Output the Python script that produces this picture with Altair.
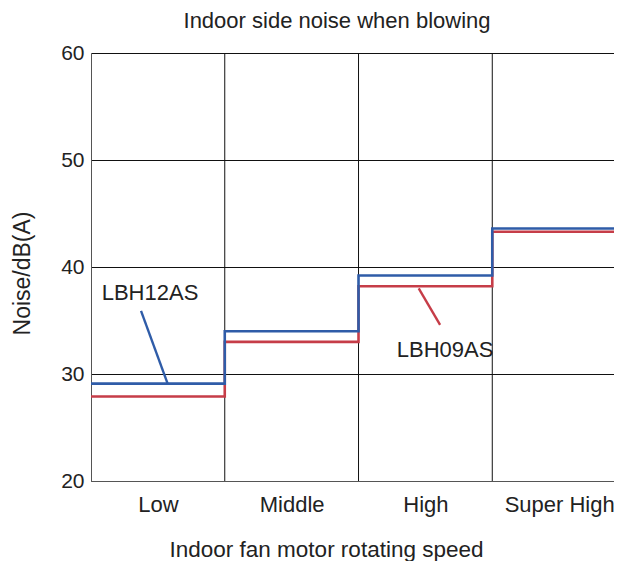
import altair as alt
import pandas as pd

# ---- data ----
speeds = ["Low", "Middle", "High", "Super High"]
lbh12as = [29.1, 34.0, 39.2, 43.6]
lbh09as = [27.9, 33.0, 38.2, 43.3]
boundaries = [1, 2, 3]

ann_names = ["LBH12AS", "LBH09AS"]
ann_x = [0.08, 2.286]
ann_y = [36.9, 31.6]
lead_x1 = [0.374, 2.45]
lead_y1 = [35.9, 38.0]
lead_x2 = [0.573, 2.61]
lead_y2 = [29.1, 34.6]

chart_title = "Indoor side noise when blowing"

BLUE = "#2f5ca8"
RED = "#c63d48"
FONT = "Liberation Sans"
TXT = "#222222"

def steps(vals, name):
    xs = list(range(len(vals))) + [len(vals)]
    ys = list(vals) + [vals[-1]]
    return pd.DataFrame({"x": xs, "y": ys, "model": name})

df_lines = pd.concat([steps(lbh09as, "LBH09AS"), steps(lbh12as, "LBH12AS")])
df_bound = pd.DataFrame({"b": boundaries})
df_ann = pd.DataFrame({"name": ann_names, "x": ann_x, "y": ann_y})
df_lead = pd.DataFrame({"name": ann_names, "x1": lead_x1, "y1": lead_y1,
                        "x2": lead_x2, "y2": lead_y2})
df_title = pd.DataFrame({"t": [chart_title]})

label_expr = "[" + ",".join("'%s'" % s for s in speeds) + "][floor(datum.value)]"

PLOT_W = 523
PLOT_H = 428
xscale = alt.Scale(domain=[0, 3.91], nice=False, zero=False)
yscale = alt.Scale(domain=[20, 60], nice=False, zero=False)
cscale = alt.Scale(domain=["LBH09AS", "LBH12AS"], range=[RED, BLUE])

x_axis = alt.Axis(
    values=[i + 0.5 for i in range(len(speeds))],
    labelExpr=label_expr,
    grid=False, ticks=False, domain=True, domainColor="#555555",
    labelFontSize=22, labelFont=FONT, labelColor=TXT, labelPadding=13,
    title="Indoor fan motor rotating speed", titleFontSize=22.5, titleFont=FONT,
    titleFontWeight="normal", titleColor=TXT,
    titleX=235, titleY=75, titleBaseline="alphabetic", titleAlign="center",
)
y_axis = alt.Axis(
    values=[20, 30, 40, 50, 60],
    grid=True, gridColor="#111111", gridWidth=1, gridOpacity=1,
    ticks=False, domain=True, domainColor="#555555",
    labelFontSize=21, labelFont=FONT, labelColor=TXT, labelPadding=7,
    title="Noise/dB(A)", titleFontSize=23, titleFont=FONT,
    titleFontWeight="normal", titleColor=TXT,
    titleX=-62, titleY=220, titleBaseline="alphabetic", titleAlign="center",
)

rules = alt.Chart(df_bound).mark_rule(color="#111111", strokeWidth=1).encode(
    x=alt.X("b:Q", scale=xscale)
)

lines = alt.Chart(df_lines).mark_line(
    interpolate="step-after", strokeWidth=2.6, clip=True
).encode(
    x=alt.X("x:Q", scale=xscale, axis=x_axis),
    y=alt.Y("y:Q", scale=yscale, axis=y_axis),
    color=alt.Color("model:N", scale=cscale, legend=None),
    order=alt.Order("x:Q"),
    detail="model:N",
)

leads = alt.Chart(df_lead).mark_rule(strokeWidth=2.4).encode(
    x=alt.X("x1:Q", scale=xscale), y=alt.Y("y1:Q", scale=yscale),
    x2="x2:Q", y2="y2:Q",
    color=alt.Color("name:N", scale=cscale, legend=None),
)

texts = alt.Chart(df_ann).mark_text(
    align="left", baseline="alphabetic", fontSize=22, font=FONT, color=TXT
).encode(
    x=alt.X("x:Q", scale=xscale), y=alt.Y("y:Q", scale=yscale), text="name:N"
)

title_txt = alt.Chart(df_title).mark_text(
    align="center", baseline="alphabetic", fontSize=22, font=FONT, color=TXT,
    clip=False
).encode(
    x=alt.value(246), y=alt.value(-25), text="t:N"
)

chart = alt.layer(rules, lines, leads, texts, title_txt).properties(
    width=PLOT_W, height=PLOT_H,
    autosize=alt.AutoSizeParams(type="none"),
    padding={"left": 83, "top": 45, "right": 0, "bottom": 80},
).configure_view(stroke=None).configure(background="white")

chart.save("out.html", embed_options={"renderer": "svg", "actions": False})
